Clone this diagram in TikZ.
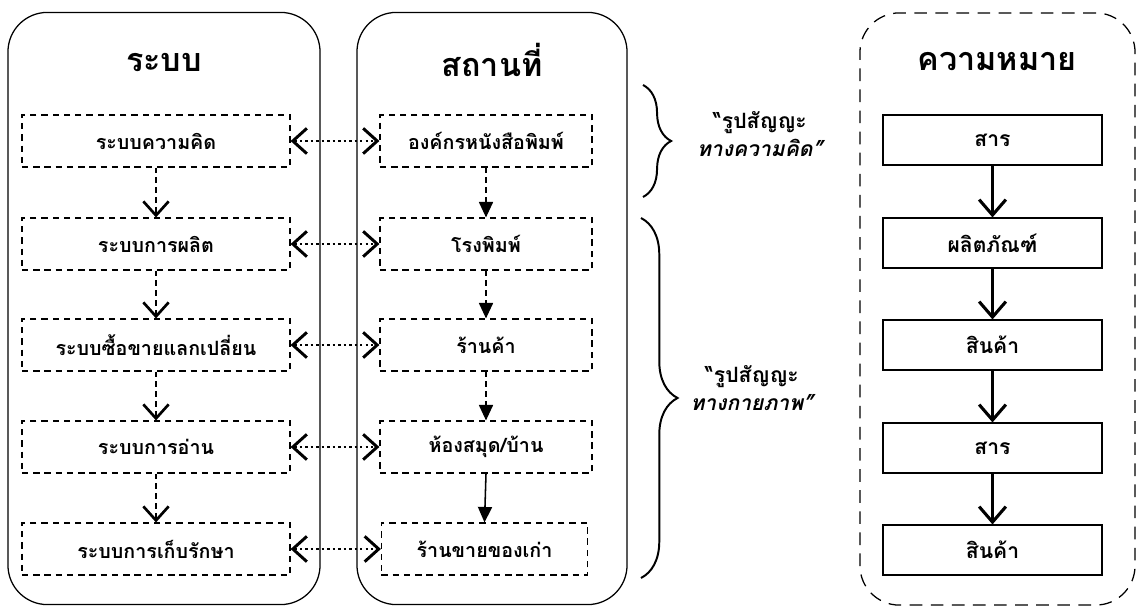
\documentclass[tikz,border=0pt]{standalone}
\usepackage{fontspec}
\newfontfamily\thaifont[Script=Thai]{Loma}
\usetikzlibrary{arrows.meta,decorations.pathreplacing}
\tikzset{
  bigbox/.style={draw, line width=0.9pt, rounded corners=28pt, minimum width=#1, minimum height=14.8cm},
  dashbox/.style={draw, line width=0.8pt, dash pattern=on 4.5pt off 3.5pt, minimum height=1.3cm, font=\thaifont\bfseries\fontsize{14}{16}\selectfont},
  midbox/.style={dashbox, font=\thaifont\bfseries\fontsize{14}{16}\selectfont},
  solbox/.style={draw, line width=0.8pt, minimum width=5.475cm, minimum height=1.25cm, font=\thaifont\bfseries\fontsize{15}{17}\selectfont},
  title/.style={font=\thaifont\bfseries\fontsize{23}{27}\selectfont},
  chev/.tip={Straight Barb[length=10pt,width=18pt,line width=2.1pt]},
  biarrow/.style={chev-chev, line width=1.7pt, dash pattern=on 1.7pt off 2.2pt},
  vdash/.style={-{Straight Barb[length=10pt,width=18pt,line width=1.9pt]}, line width=1.1pt, dash pattern=on 4pt off 3pt},
  tdash/.style={-{Triangle[length=11pt,width=10pt]}, line width=1.1pt, dash pattern=on 4pt off 3pt},
  tsolid/.style={-{Triangle[length=11pt,width=10pt]}, line width=1.1pt},
  vsolid/.style={-{Straight Barb[length=11pt,width=19pt,line width=2.2pt]}, line width=1.8pt},
  bracestyle/.style={decorate, decoration={brace, amplitude=#1}, line width=1.4pt},
  lab/.style={align=center, font=\thaifont\bfseries\fontsize{15}{20}\selectfont}
}
\begin{document}
\begin{tikzpicture}[x=0.025cm,y=-0.025cm]
\useasboundingbox (0,0) rectangle (1137,609);
\fill[white] (0,0) rectangle (1137,609);

% containers
\node[bigbox=7.8cm] (sys) at (164,308.5) {};
\node[bigbox=6.75cm] (place) at (492,308.5) {};
\node[bigbox=6.875cm, dash pattern=on 9pt off 6pt] (mean) at (997.5,309) {};

\node[title] (tsys) at (164,62) {ระบบ};
\node[title] (tplace) at (492,60) {สถานที่};
\node[title] (tmean) at (997,62) {ความหมาย};

% left column
\node[dashbox, minimum width=6.7cm] (l1) at (156,141) {ระบบความคิด};
\node[dashbox, minimum width=6.7cm] (l2) at (156,244) {ระบบการผลิต};
\node[dashbox, minimum width=6.7cm] (l3) at (156,345) {ระบบซื้อขายแลกเปลี่ยน};
\node[dashbox, minimum width=6.7cm] (l4) at (156,447) {ระบบการอ่าน};
\node[dashbox, minimum width=6.7cm] (l5) at (156,549) {ระบบการเก็บรักษา};

% middle column
\node[midbox, minimum width=5.3cm] (m1) at (486,141) {องค์กรหนังสือพิมพ์};
\node[midbox, minimum width=5.3cm] (m2) at (486,244) {โรงพิมพ์};
\node[midbox, minimum width=5.3cm] (m3) at (486,345) {ร้านค้า};
\node[midbox, minimum width=5.3cm] (m4) at (486,447) {ห้องสมุด/บ้าน};
\node[midbox, minimum width=5.15cm] (m5) at (484.5,549) {ร้านขายของเก่า};

% right column
\node[solbox] (r1) at (992.5,140) {สาร};
\node[solbox] (r2) at (992.5,243) {ผลิตภัณฑ์};
\node[solbox] (r3) at (992.5,345) {สินค้า};
\node[solbox] (r4) at (992.5,448) {สาร};
\node[solbox] (r5) at (992.5,550) {สินค้า};

% connectors
\foreach \i in {1,...,5} {\draw[biarrow] (l\i.east) -- (m\i.west);}
\foreach \i/\j in {1/2,2/3,3/4,4/5} {
  \draw[vdash] (l\i.south) -- (l\j.north);
  \draw[vsolid] (r\i.south) -- (r\j.north);
}
\foreach \i/\j in {1/2,2/3,3/4} {\draw[tdash] (m\i.south) -- (m\j.north);}
\draw[tsolid] (m4.south) -- (m5.north);

% braces
\coordinate (b1a) at (643,85);
\coordinate (b1b) at (643,197);
\coordinate (b2a) at (641,218);
\coordinate (b2b) at (641,578);
\draw[bracestyle=20pt] (b1a) -- (b1b);
\draw[bracestyle=26pt] (b2a) -- (b2b);

\node[lab] (lab1) at (760,134) {“รูปสัญญะ\\{\itshape ทางความคิด”}};
\node[lab] (lab2) at (752,388) {“รูปสัญญะ\\{\itshape ทางกายภาพ”}};
\end{tikzpicture}
\end{document}
